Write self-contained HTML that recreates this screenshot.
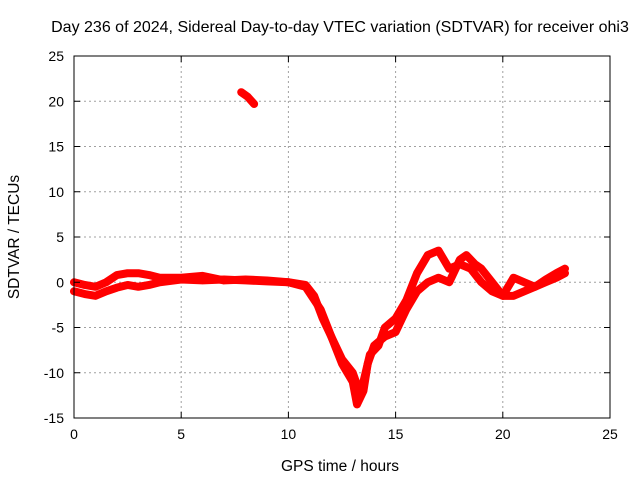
<!DOCTYPE html>
<html><head><meta charset="utf-8"><style>
body{margin:0;background:#fff;}
svg{display:block;font-family:"Liberation Sans",sans-serif;}
</style></head><body>
<svg id="chart" width="640" height="480">
<rect width="640" height="480" fill="#fff"/>
<text x="340" y="32" font-size="16" text-anchor="middle">Day 236 of 2024, Sidereal Day-to-day VTEC variation (SDTVAR) for receiver ohi3</text>
<g id="grid"></g><g id="series"></g><g id="axes"></g>
<text x="340" y="471" font-size="15.5" text-anchor="middle">GPS time / hours</text>
<text transform="translate(19,237) rotate(-90)" font-size="15.5" text-anchor="middle">SDTVAR / TECUs</text>
</svg>
<script>
const xTicks=[0,5,10,15,20,25];
const yTicks=[-15,-10,-5,0,5,10,15,20,25];
const t1=[0,0.5,1,1.5,2,2.5,3,3.5,4,5,6,7,8,9,10,10.8,11.2,11.6,12,12.5,13,13.3,13.5,13.8,14.2,14.5,15,15.5,16,16.5,17,17.5,18,18.5,19,19.5,20,20.5,21,21.5,22,22.5,22.9];
const v1=[0,-0.3,-0.5,0,0.8,1,1,0.8,0.5,0.5,0.7,0.2,0.3,0.2,0,-0.3,-1.5,-4,-6,-8.5,-10,-12,-11,-8,-7,-5,-4,-2,1,3,3.5,1.5,2,1.5,0,-1,-1.5,0.5,0,-0.5,0.3,1,1.5];
const t2=[0,0.5,1,1.5,2,2.5,3,3.5,4,5,6,7,8,9,10,10.8,11.5,12,12.5,13,13.2,13.5,13.7,14,14.5,15,15.5,16,16.5,17,17.5,18,18.3,18.7,19,19.5,20,20.5,21,21.5,22,22.5,22.9];
const v2=[-1,-1.3,-1.5,-1,-0.6,-0.3,-0.5,-0.3,0,0.3,0.2,0.3,0.2,0.1,0,-0.5,-3,-6,-9,-11,-13.5,-12,-9,-7,-6,-5.5,-3,-1,0,0.5,0,2.5,3,2,1.5,0,-1.5,-1.5,-1,-0.5,0,0.5,1];
const t3=[7.8,8.1,8.4];
const v3=[21,20.5,19.7];
const X0=74,X1=610,Y0=418,Y1=56;
const sx=v=>X0+(v-0)/25*(X1-X0);
const sy=v=>Y0-(v+15)/40*(Y0-Y1);
const NS="http://www.w3.org/2000/svg";
function mk(tag,attrs,parent){const e=document.createElementNS(NS,tag);for(const k in attrs)e.setAttribute(k,attrs[k]);parent.appendChild(e);return e;}
const grid=document.getElementById('grid'),axes=document.getElementById('axes'),series=document.getElementById('series');
xTicks.forEach(t=>{const x=sx(t);
 if(t>0&&t<25){const l=mk('line',{x1:x,x2:x,y1:Y1,y2:Y0,stroke:'#a0a0a0','stroke-dasharray':'2,3'},grid);
 
 }
 const tx=mk('text',{x:x,y:Y0+21,'font-size':14,'text-anchor':'middle'},axes);tx.textContent=t;
 
 
 mk('line',{x1:x,x2:x,y1:Y0,y2:Y0-6,stroke:'#000'},axes);mk('line',{x1:x,x2:x,y1:Y1,y2:Y1+6,stroke:'#000'},axes);
});
yTicks.forEach(t=>{const y=sy(t);
 if(t>-15&&t<25){const l=mk('line',{x1:X0,x2:X1,y1:y,y2:y,stroke:'#a0a0a0','stroke-dasharray':'2,3'},grid);
 
 }
 const tx=mk('text',{x:X0-10,y:y+5,'font-size':14,'text-anchor':'end'},axes);tx.textContent=t;
 
 
 mk('line',{x1:X0,x2:X0+6,y1:y,y2:y,stroke:'#000'},axes);mk('line',{x1:X1,x2:X1-6,y1:y,y2:y,stroke:'#000'},axes);
});
const fr=mk('rect',{x:X0,y:Y1,width:X1-X0,height:Y0-Y1,fill:'none',stroke:'#000'},axes);


[[t1,v1,'series-track-1'],[t2,v2,'series-track-2'],[t3,v3,'series-track-3']].forEach(([t,v,n])=>{
 const pts=t.map((ti,i)=>sx(ti)+','+sy(v[i])).join(' ');
 const p=mk('polyline',{points:pts,fill:'none',stroke:'#ff0000','stroke-width':8,'stroke-linejoin':'round','stroke-linecap':'round'},series);
 
 
});
</script>
</body></html>
